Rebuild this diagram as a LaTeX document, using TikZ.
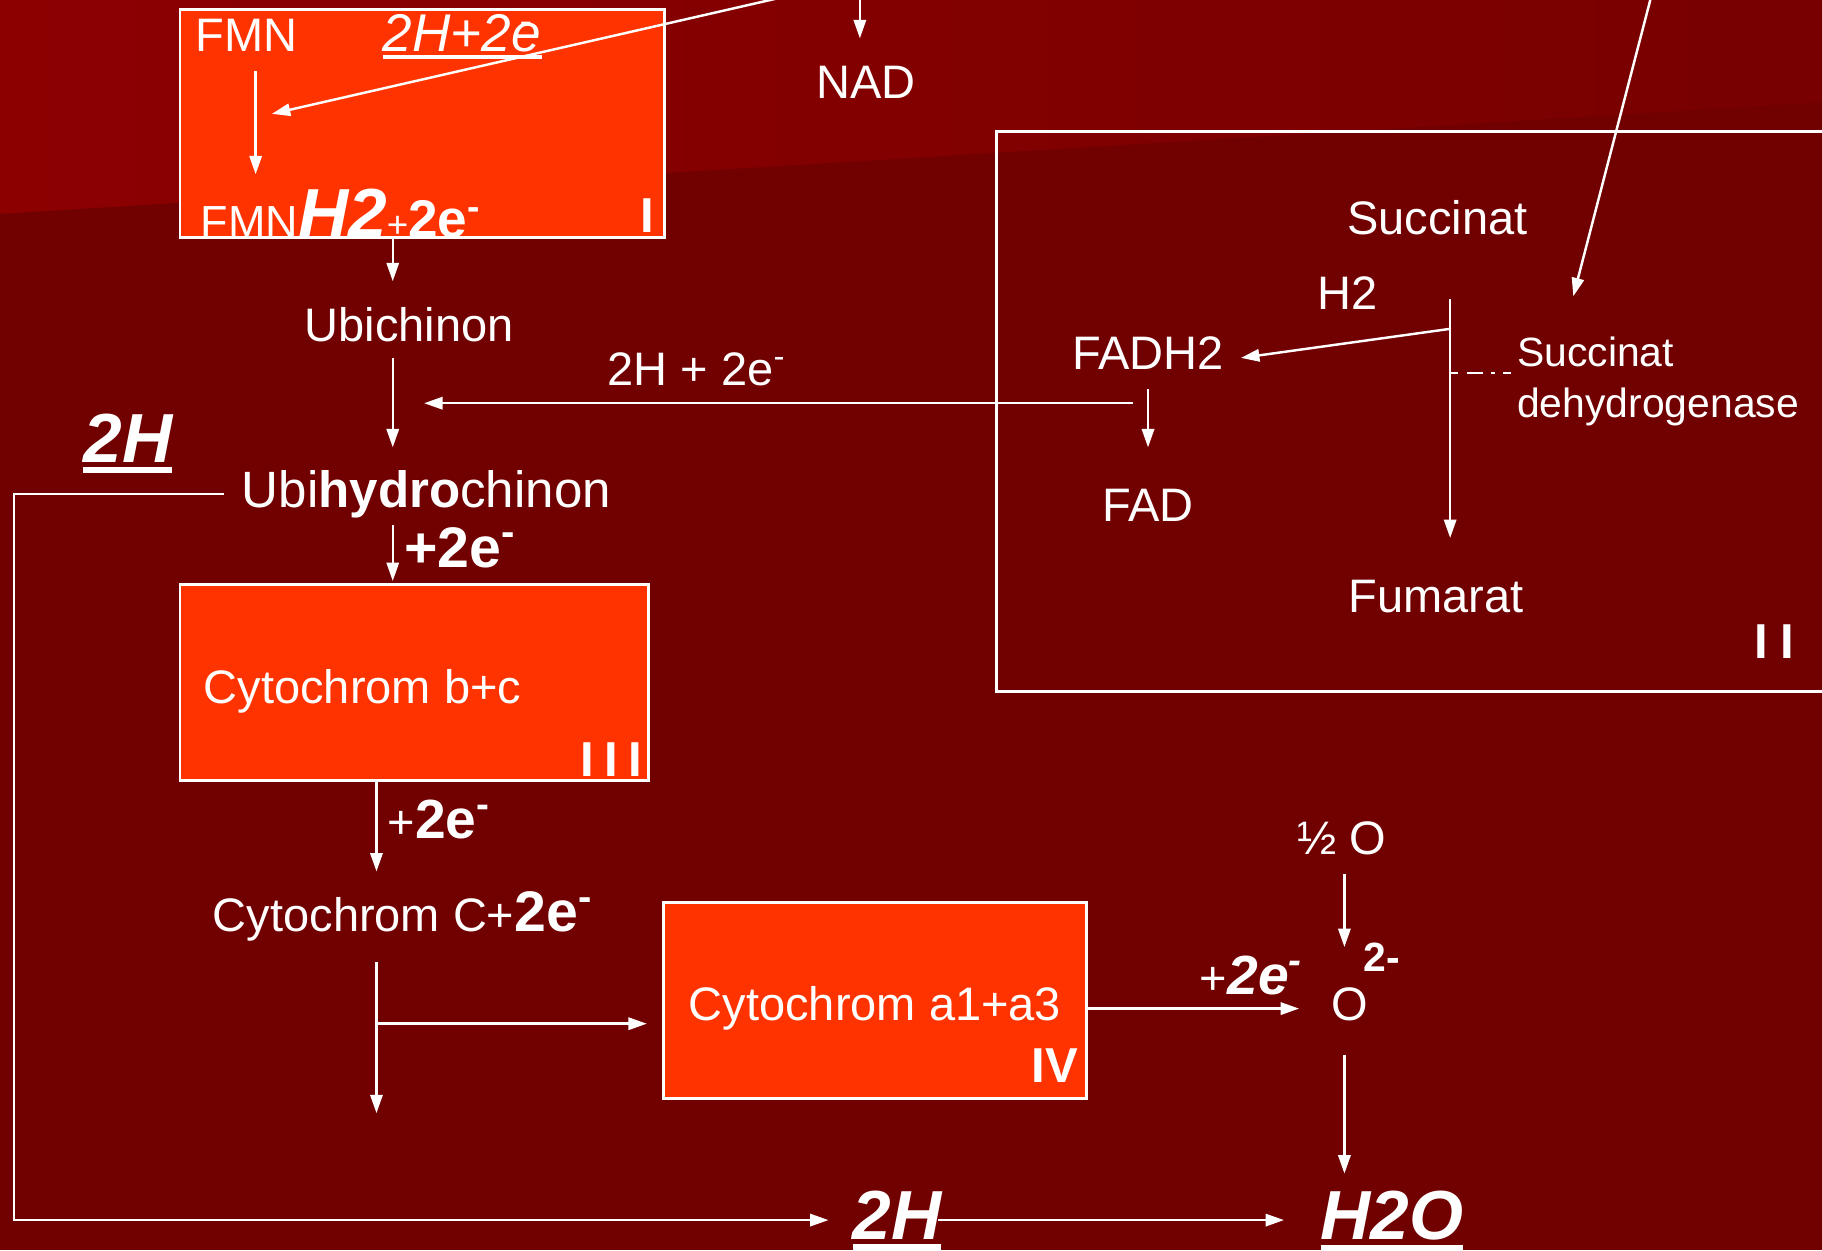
\documentclass[tikz,border=0pt]{standalone}
\usepackage{fontspec}
\setmainfont{Liberation Sans}
\usetikzlibrary{positioning,calc,arrows.meta}
\definecolor{bgred}{RGB}{113,0,0}
\definecolor{glowred}{RGB}{140,0,0}
\definecolor{glowend}{RGB}{120,0,0}
\definecolor{cplxred}{RGB}{255,51,0}
\newcommand{\fs}[1]{\fontsize{#1}{#1}\selectfont}
\newcommand{\elec}{\textsuperscript{-}}
\newcommand{\thickul}[1]{\vtop{\hbox{#1}\kern1.1pt\hrule height1.5pt}}
\newcommand{\thinul}[1]{\vtop{\hbox{#1}\kern0.9pt\hrule height0.9pt}}

\begin{document}
\begin{tikzpicture}[x=0.01cm, y=-0.01cm,
  lbl/.style={text=white, font=\fs{11.5pt}, inner sep=0pt},
  small/.style={text=white, font=\fontsize{10pt}{12.5pt}\selectfont, inner sep=0pt, align=left},
  big/.style={text=white, font=\fs{17pt}\bfseries\itshape, inner sep=0pt},
  roman/.style={text=white, font=\fs{12pt}\bfseries, inner sep=0pt},
  cplx/.style={draw=white, fill=cplxred, line width=0.7pt, inner sep=0pt},
  frame/.style={draw=white, line width=0.7pt, inner sep=0pt},
  arc/.style={white, line width=0.6pt, -{Triangle[length=4.5pt,width=3pt]}},
  wire/.style={white, line width=0.6pt},
]
%─── background ───────────────────────────────────────────────
\useasboundingbox (0,0) rectangle (1568,1076);
\clip (0,0) rectangle (1568,1076);
\fill[bgred] (0,0) rectangle (1568,1076);
\shade[left color=glowred, right color=glowend]
  (0,0) -- (1568,0) -- (1568,88) -- (0,184) -- cycle;

%─── complex I ────────────────────────────────────────────────
\node[cplx, minimum width=4.17cm, minimum height=1.96cm] (box1) at (363.5,106) {};
\node[lbl, anchor=base] (fmnTop) at (212,44) {FMN};
\node[lbl, anchor=base, font=\fs{13pt}\itshape] (hin) at (398,44)
  {\thinul{2H+2e\kern-.4em\textsuperscript{-}\kern.15em}};
\node[lbl, anchor=base west] (fmnh) at (172,204)
  {{\fs{11pt}FMN}{\fs{17pt}\bfseries\itshape H2}{\fs{9pt}+}{\fs{13pt}\bfseries 2e\elec}};
\node[roman, anchor=base] (rI) at (557,200) {I};
\coordinate (fmnDown) at (220,150);
\draw[arc] (fmnTop.south -| fmnDown) ++(0,16) -- (fmnDown);
\coordinate (nadFrom) at (676,-3);
\coordinate (fmnIn) at (234,98);
\draw[arc] (nadFrom) -- (fmnIn);

%─── NAD ──────────────────────────────────────────────────────
\node[lbl, anchor=base] (nad) at (745,85) {NAD};
\coordinate (nadTop) at (740,-3);
\draw[arc] (nadTop) -- ++(0,36);

%─── ubichinone ───────────────────────────────────────────────
\node[lbl, anchor=base] (ubichinon) at (352,294) {Ubichinon};
\coordinate (ubiIn) at (338,242);
\draw[arc] (box1.south -| ubiIn) -- (ubiIn);
\node[lbl, anchor=base, font=\fs{12.5pt}] (ubihydro) at (367,437)
  {Ubi{\bfseries hydro}chinon};
\coordinate (ubiOut) at (338,308);
\coordinate (hydIn) at (338,385);
\draw[arc] (ubiOut) -- (hydIn);
\node[big, anchor=base] (twoHl) at (110,398) {\thickul{2H}};

%─── complex II ───────────────────────────────────────────────
\node[frame, minimum width=7.9cm, minimum height=4.82cm] (box2) at (1253,354) {};
\node[lbl, anchor=base] (succ) at (1237,202) {Succinat};
\node[lbl, anchor=base] (hzwei) at (1160,266) {H2};
\node[lbl, anchor=base] (fadh) at (988,318) {FADH2};
\node[lbl, anchor=base] (fad) at (988,449) {FAD};
\node[lbl, anchor=base] (fumarat) at (1236,527) {Fumarat};
\node[small, anchor=base west] (sdh) at (1305,359) {Succinat\\dehydrogenase};
\node[roman, anchor=base] (rII) at (1527,567) {I\kern3pt I};
\coordinate (succTop) at (1248,257);
\coordinate (fumIn) at (1248,463);
\draw[arc] (succTop) -- (fumIn);
\coordinate (hSplit) at (1248,283);
\coordinate (fadhIn) at (1068,308);
\draw[arc] (hSplit) -- (fadhIn);
\coordinate (sdhTick) at (1248,321);
\draw[wire, dash pattern=on 2pt off 2pt on 4pt off 2pt on 1pt off 2pt]
  (sdhTick) -- (sdhTick -| sdh.west);
\coordinate (fadOut) at (988,335);
\draw[arc] (fadOut) -- (fadOut |- 0,385);
\coordinate (sdhFrom) at (1421,-3);
\coordinate (sdhIn) at (1354,255);
\draw[arc] (sdhFrom) -- (sdhIn);
\node[lbl, anchor=base] (h2e) at (600,332) {2H + 2e\elec};
\coordinate (fadBack) at (975,347);
\coordinate (qIn) at (365,347);
\draw[arc] (fadBack) -- (qIn);

%─── complex III ──────────────────────────────────────────────
\coordinate (hydOut) at (338,452);
\draw[arc] (hydOut) -- (hydOut |- 0,500);
\node[lbl, anchor=base west, font=\fs{14pt}\bfseries] (e1) at (347,488) {+2e\elec};
\node[cplx, minimum width=4.03cm, minimum height=1.69cm] (box3) at (356.5,587.5) {};
\node[lbl, anchor=base] (cytbc) at (312,605) {Cytochrom b+c};
\node[roman, anchor=base] (rIII) at (526,668) {I\kern2.5pt I\kern2.5pt I};
\coordinate (cytcIn) at (324,750);
\draw[arc] (box3.south -| cytcIn) -- (cytcIn);
\node[lbl, anchor=base west] (e2) at (333,722)
  {+{\fs{13.5pt}\bfseries 2e\elec}};
\node[lbl, anchor=base] (cytc) at (347,802)
  {Cytochrom C+{\fs{14pt}\bfseries 2e\elec}};

%─── complex IV ───────────────────────────────────────────────
\node[cplx, minimum width=3.64cm, minimum height=1.68cm] (box4) at (753,861) {};
\node[lbl, anchor=base] (cytaa) at (753,878) {Cytochrom a1+a3};
\node[roman, anchor=base] (rIV) at (908,932) {IV};
\coordinate (cytcOut) at (324,828);
\coordinate (cytcEnd) at (324,958);
\coordinate (branch) at (324,881);
\draw[arc] (cytcOut) -- (cytcEnd);
\draw[arc, shorten >=3.7pt] (branch) -- (branch -| box4.west);

%─── oxygen and water ─────────────────────────────────────────
\node[lbl, anchor=base] (halfO) at (1155,735) {½ O};
\node[lbl, anchor=base] (oxy) at (1162,878) {O};
\node[lbl, anchor=base, font=\fs{10pt}\bfseries] (charge) at (1189,836) {2-};
\node[lbl, anchor=base west] (e3) at (1032,856)
  {+{\fs{13.5pt}\bfseries\itshape 2e\elec}};
\coordinate (oxyIn) at (1118,868);
\draw[arc] (box4.east |- oxyIn) -- (oxyIn);
\coordinate (halfOut) at (1157,752);
\draw[arc] (halfOut) -- (halfOut |- 0,815);
\coordinate (oxyOut) at (1157,908);
\coordinate (waterTop) at (1157,1010);
\draw[arc] (oxyOut) -- (waterTop);
\node[big, anchor=base] (twoHb) at (772,1067) {\thickul{2H}};
\node[big, anchor=base] (water) at (1198,1067) {\thickul{H2O}};
\coordinate (loopStart) at (193,425);
\coordinate (loopCorner) at (12,425);
\coordinate (hBotIn) at (713,1050);
\draw[arc] (loopStart) -- (loopCorner) |- (hBotIn);
\coordinate (waterIn) at (1105,1050);
\draw[arc] (hBotIn -| twoHb.east) ++(-4,0) -- (waterIn);
\end{tikzpicture}
\end{document}
